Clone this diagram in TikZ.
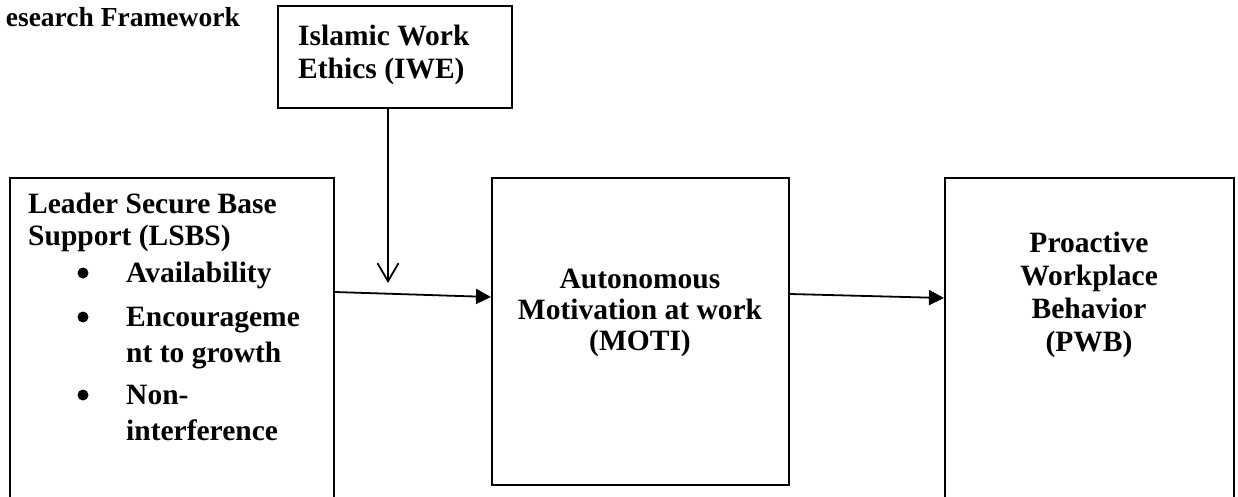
\documentclass[tikz,border=0pt]{standalone}
\usepackage{fontspec}
\setmainfont{Liberation Serif}
\usetikzlibrary{arrows.meta}
\tikzset{
  box/.style={draw, line width=1.8pt, rectangle, inner sep=0pt, anchor=north west},
  txt/.style={inner sep=0pt, font=\fontsize{29.5}{34}\selectfont\bfseries},
  ltxt/.style={txt, anchor=base west},
  ctxt/.style={txt, anchor=base},
  bul/.style={circle, fill=black, inner sep=0pt, minimum size=11pt},
  conn/.style={line width=1.8pt, -{Triangle[length=15pt,width=15pt]}},
  modarrow/.style={line width=1.8pt, -{Straight Barb[length=18pt,width=21pt,line width=1.8pt]}}
}
\begin{document}
\begin{tikzpicture}[x=1pt,y=-1pt]
\clip (0,0) rectangle (1238,496);
\fill[white] (0,0) rectangle (1238,496);
% title
\node[inner sep=0pt, anchor=base east, font=\fontsize{27.5}{32}\selectfont\bfseries] (title) at (240,26) {esearch Framework};
% boxes
\node[box, minimum width=234pt, minimum height=102pt] (iwe) at (277,5) {};
\node[box, minimum width=324pt, minimum height=343pt] (lsbs) at (9,177) {};
\node[box, minimum width=297pt, minimum height=307pt] (moti) at (491,177) {};
\node[box, minimum width=289pt, minimum height=343pt] (pwb) at (944,177) {};
% IWE text
\node[ltxt] (iwe1) at (298,45) {Islamic Work};
\node[ltxt] (iwe2) at (298,78) {Ethics (IWE)};
% LSBS text
\node[ltxt] (l1) at (28,213) {Leader Secure Base};
\node[ltxt] (l2) at (28,245) {Support (LSBS)};
\node[bul] (b1) at (83,273) {};
\node[ltxt] (l3) at (126,282) {Availability};
\node[bul] (b2) at (83,317) {};
\node[ltxt] (l4) at (126,326) {Encourageme};
\node[ltxt] (l5) at (126,362) {nt to growth};
\node[bul] (b3) at (83,395) {};
\node[ltxt] (l6) at (126,404) {Non-};
\node[ltxt] (l7) at (126,440) {interference};
% MOTI text
\node[ctxt] (m1) at (640,288) {Autonomous};
\node[ctxt] (m2) at (640,319) {Motivation at work};
\node[ctxt] (m3) at (640,350) {(MOTI)};
% PWB text
\node[ctxt] (p1) at (1089,252) {Proactive};
\node[ctxt] (p2) at (1089,285) {Workplace};
\node[ctxt] (p3) at (1089,318) {Behavior};
\node[ctxt] (p4) at (1089,351) {(PWB)};
% connectors
\coordinate (modtip) at (388,283);
\draw[modarrow] (iwe.south -| modtip) -- (modtip);
\draw[conn] (lsbs.east |- 0,292) -- (moti.west |- 0,297);
\draw[conn] (moti.east |- 0,294) -- (pwb.west |- 0,298);
\end{tikzpicture}
\end{document}
